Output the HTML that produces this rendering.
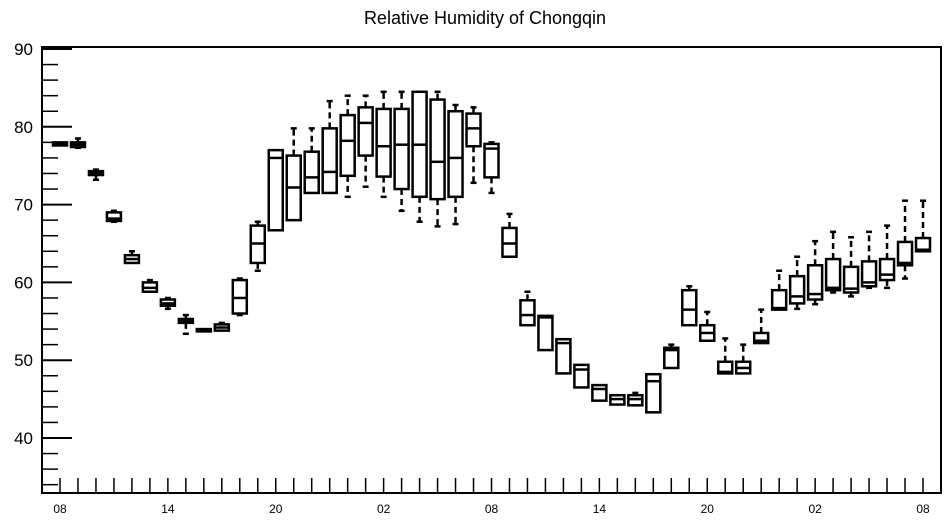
<!DOCTYPE html>
<html><head><meta charset="utf-8"><style>
body{margin:0;background:#fff;}
svg{display:block;font-family:"Liberation Sans",Arial,sans-serif;}
</style></head><body>
<svg id="chart" width="947" height="523" viewBox="0 0 947 523">
<text x="485" y="24" font-size="18" text-anchor="middle">Relative Humidity of Chongqin</text>
<g id="axes"></g>
<g id="boxes"></g>
</svg>
<script>
const hours = ["08","09","10","11","12","13","14","15","16","17","18","19","20","21","22","23","00","01","02","03","04","05","06","07","08","09","10","11","12","13","14","15","16","17","18","19","20","21","22","23","00","01","02","03","04","05","06","07","08"];
const whiskerLow = [77.6,77.3,73.2,67.8,62.5,58.8,56.6,53.4,53.7,53.8,55.8,61.5,67.3,68.6,71.5,72,71,72.3,71,69.2,67.8,67.2,67.5,72.8,71.5,64.5,55.5,53.2,48.8,47.3,45.5,44.3,44.2,46.5,50,55.5,52.5,48.3,48.5,52.2,56.5,56.6,57.2,58.7,58.2,59.3,59.3,60.5,64];
const q1 = [77.6,77.4,73.8,67.9,62.5,58.8,57,54.8,53.7,53.8,56,62.5,66.7,68,71.5,71.5,73.7,76.3,73.6,72,71,70.7,71,77.5,73.5,63.3,54.5,51.3,48.3,46.5,44.8,44.3,44.2,43.3,49,54.5,52.5,48.3,48.3,52.2,56.5,57.3,57.8,59,58.7,59.5,60.3,62.2,64];
const medians = [77.8,77.7,74,68.2,63,59.3,57.3,55,53.8,54.2,58,65,76,72.2,73.5,74.2,78.2,80.5,77.5,77.7,77.7,75.5,76,79.8,77.2,65,55.8,55.5,52.2,48.8,46.3,45,45,47.3,51.3,56.5,53.5,48.5,49,52.5,56.7,58.2,58.5,59.3,59.2,60,61,62.5,64.2];
const q3 = [78,78,74.3,69,63.5,60,57.8,55.3,54,54.6,60.3,67.3,77,76.3,76.8,79.8,81.5,82.5,82.3,82.3,84.5,83.5,82,81.7,77.8,67,57.7,55.7,52.7,49.4,46.8,45.5,45.5,48.2,51.6,59,54.5,49.8,49.8,53.5,59,60.8,62.2,63,62,62.7,63,65.2,65.7];
const whiskerHigh = [78,78.5,74.5,69.2,64,60.3,58,55.8,54,54.8,60.5,67.8,77,79.8,79.8,83.3,84,84,84.5,84.5,84.5,84.5,82.8,82.5,78,68.8,58.8,55.8,52.7,49.4,46.8,45.5,45.8,48.2,52,59.5,56.2,52.8,52,56.5,61.5,63.3,65.3,66.5,65.8,66.5,67.3,70.5,70.5];
const yTicks = [40,50,60,70,80,90];
const xLabelIdx = [0,6,12,18,24,30,36,42,48];

const NS="http://www.w3.org/2000/svg";
const X0=42,X1=941,Y0=47,YB=493;
const xs=i=>60+i*(923-60)/48;
const ys=v=>49+(90-v)*(438-49)/50;
function mk(tag,attrs,parent){const e=document.createElementNS(NS,tag);for(const k in attrs)e.setAttribute(k,attrs[k]);parent.appendChild(e);return e;}
const ax=document.getElementById('axes');
const frame=mk('rect',{x:X0,y:Y0,width:X1-X0,height:YB-Y0,fill:'none',stroke:'#000','stroke-width':2},ax);


for(let v=34;v<=90;v+=2){
  const major=v%10===0;
  const t=mk('line',{x1:X0,x2:X0+(major?30:16),y1:ys(v),y2:ys(v),stroke:'#000','stroke-width':major?2:1.5},ax);
  
  
}
yTicks.forEach(v=>{
  const t=mk('text',{x:33,y:ys(v)+6,'font-size':17,'text-anchor':'end'},ax);t.textContent=v;
  
  
});
hours.forEach((h,i)=>{
  const t=mk('line',{x1:xs(i),x2:xs(i),y1:YB,y2:YB-15,stroke:'#000','stroke-width':1.5},ax);
  
  
});
xLabelIdx.forEach(i=>{
  const t=mk('text',{x:xs(i),y:513,'font-size':12,'text-anchor':'middle'},ax);t.textContent=hours[i];
  
  
});
const bg=document.getElementById('boxes');
hours.forEach((h,i)=>{
  const g=mk('g',{},bg);
  
  
  const x=xs(i),w=7;
  const s={stroke:'#000','stroke-width':2.5,fill:'none'};
  if(whiskerHigh[i]>q3[i]+0.1){
    mk('line',Object.assign({x1:x,x2:x,y1:ys(q3[i]),y2:ys(whiskerHigh[i]),'stroke-dasharray':'6,4'},s),g);
    mk('line',Object.assign({x1:x-3,x2:x+3,y1:ys(whiskerHigh[i]),y2:ys(whiskerHigh[i])},s),g);
  }
  if(whiskerLow[i]<q1[i]-0.1){
    mk('line',Object.assign({x1:x,x2:x,y1:ys(q1[i]),y2:ys(whiskerLow[i]),'stroke-dasharray':'6,4'},s),g);
    mk('line',Object.assign({x1:x-3,x2:x+3,y1:ys(whiskerLow[i]),y2:ys(whiskerLow[i])},s),g);
  }
  mk('rect',Object.assign({x:x-w,y:ys(q3[i]),width:2*w,height:Math.max(1,ys(q1[i])-ys(q3[i]))},s,{fill:'#fff'}),g);
  mk('line',Object.assign({x1:x-w,x2:x+w,y1:ys(medians[i]),y2:ys(medians[i])},s),g);
});
</script>
</body></html>
